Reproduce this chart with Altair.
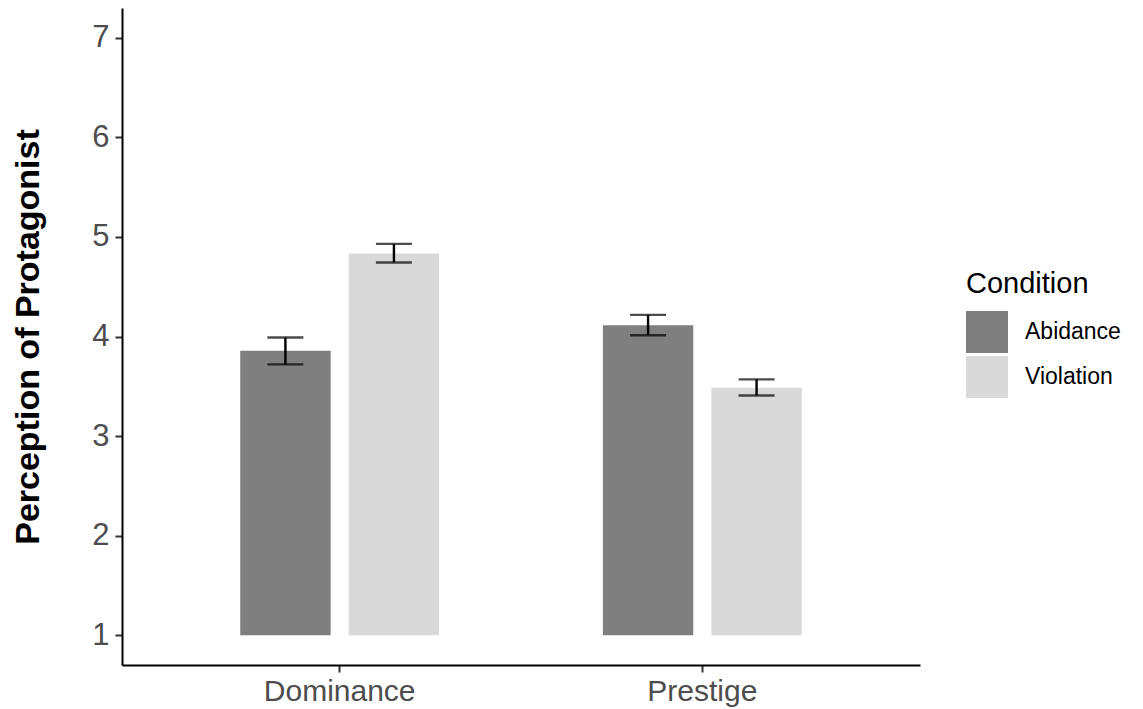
import altair as alt
import pandas as pd

traits = ["Dominance", "Dominance", "Prestige", "Prestige"]
conditions = ["Abidance", "Violation", "Abidance", "Violation"]
means = [3.856, 4.834, 4.114, 3.484]
lower = [3.72, 4.744, 4.013, 3.408]
upper = [3.99, 4.93, 4.217, 3.569]

df = pd.DataFrame({
    "Trait": traits,
    "Condition": conditions,
    "mean": means,
    "lower": lower,
    "upper": upper,
})

FONT = "Liberation Sans"

x_enc = alt.X(
    "Trait:N",
    scale=alt.Scale(paddingInner=0.4515, paddingOuter=0.326),
    axis=alt.Axis(title=None, labelAngle=0, labelFontSize=30, labelColor="#4D4D4D",
                  labelFont=FONT, domainColor="black", domainWidth=2,
                  tickColor="#333333", tickWidth=2, tickSize=7, labelPadding=4),
)
xoff = alt.XOffset("Condition:N", scale=alt.Scale(paddingInner=0.167, paddingOuter=0))
y_scale = alt.Scale(domain=[0.7, 7.3], nice=False, zero=False)

base = alt.Chart(df)

bars = base.mark_bar().encode(
    x=x_enc,
    xOffset=xoff,
    y=alt.Y(
        "mean:Q",
        scale=y_scale,
        axis=alt.Axis(
            title="Perception of Protagonist", titleFontSize=34, titleFont=FONT,
            titleFontWeight="bold", titleColor="black", titlePadding=46,
            values=[1, 2, 3, 4, 5, 6, 7], format="d", grid=False,
            labelFontSize=31, labelColor="#4D4D4D", labelFont=FONT, labelPadding=6,
            domainColor="black", domainWidth=2,
            tickColor="#333333", tickWidth=2, tickSize=7,
        ),
    ),
    y2=alt.datum(1),
    color=alt.Color(
        "Condition:N",
        scale=alt.Scale(domain=["Abidance", "Violation"], range=["#7F7F7F", "#D9D9D9"]),
        legend=alt.Legend(
            title="Condition", orient="none", legendX=844, legendY=262,
            titleFontSize=29, titleFont=FONT, titleFontWeight="normal", titleColor="black",
            titlePadding=12,
            labelFontSize=23, labelFont=FONT, labelColor="black", labelOffset=17,
            symbolType="square", symbolSize=1764, symbolStrokeWidth=0, symbolOpacity=1,
            rowPadding=3,
        ),
    ),
)

rules = base.mark_rule(color="black", strokeWidth=2.4).encode(
    x=x_enc, xOffset=xoff, y=alt.Y("lower:Q", scale=y_scale), y2="upper:Q"
)
cap_hi = base.mark_tick(color="black", thickness=2.4, size=36, orient="horizontal").encode(
    x=x_enc, xOffset=xoff, y=alt.Y("upper:Q", scale=y_scale)
)
cap_lo = base.mark_tick(color="black", thickness=2.4, size=36, orient="horizontal").encode(
    x=x_enc, xOffset=xoff, y=alt.Y("lower:Q", scale=y_scale)
)

chart = alt.layer(bars, rules, cap_hi, cap_lo).properties(
    width=798, height=657,
    padding={"left": 3, "top": 0, "right": 5, "bottom": 5},
).configure(background="white").configure_view(stroke=None)

chart.save("out.html", embed_options={"renderer": "svg", "actions": False})
